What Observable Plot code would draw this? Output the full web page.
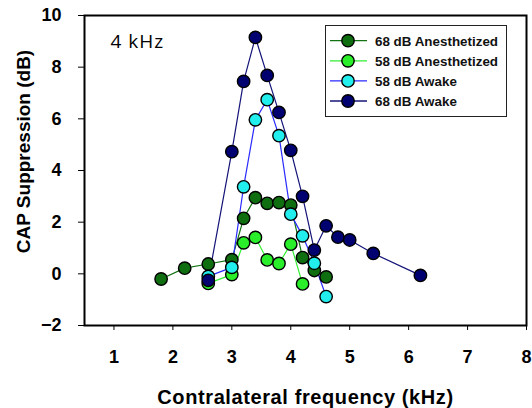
<!DOCTYPE html>
<html><head><meta charset="utf-8">
<script src="https://cdn.jsdelivr.net/npm/d3@7"></script>
<script src="https://cdn.jsdelivr.net/npm/@observablehq/plot@0.6"></script>
<style>
body{margin:0;background:#fff;}
#chart{position:relative;width:532px;height:408px;}
#legend{position:absolute;left:325px;top:25px;}
</style></head><body><div id="chart"></div>
<script>
const seriesNames = ["68 dB Anesthetized","58 dB Anesthetized","58 dB Awake","68 dB Awake"];
const fillColors = ["#0f6e0f","#2aee2a","#22eeee","#000070"];
const lineColors = ["#137313","#33ee33","#2a2aff","#141478"];
const freqAnes68 = [1.8,2.2,2.6,3.0,3.2,3.4,3.6,3.8,4.0,4.2,4.4,4.6];
const supAnes68  = [-0.2,0.22,0.38,0.55,2.15,2.95,2.73,2.76,2.66,0.63,0.13,-0.12];
const freqAnes58 = [2.6,3.0,3.2,3.4,3.6,3.8,4.0,4.2];
const supAnes58  = [-0.37,-0.03,1.2,1.41,0.54,0.4,1.15,-0.39];
const freqAwake58 = [2.6,3.0,3.2,3.4,3.6,3.8,4.0,4.2,4.4,4.6];
const supAwake58  = [-0.1,0.25,3.37,5.96,6.74,5.35,2.31,1.47,0.41,-0.88];
const freqAwake68 = [2.6,3.0,3.2,3.4,3.6,3.8,4.0,4.2,4.4,4.6,4.8,5.0,5.4,6.2];
const supAwake68  = [-0.25,4.73,7.45,9.15,7.68,6.25,4.78,3.0,0.92,1.86,1.42,1.31,0.79,-0.06];
const xTicks = [1,2,3,4,5,6,7,8];
const yTicks = [-2,0,2,4,6,8,10];
const xTitle = "Contralateral frequency (kHz)";
const yTitle = "CAP Suppression (dB)";
const panelLabel = "4 kHz";

const freqs = [freqAnes68, freqAnes58, freqAwake58, freqAwake68];
const sups = [supAnes68, supAnes58, supAwake58, supAwake68];
const series = seriesNames.map((name, i) => freqs[i].map((f, j) => ({name, f, s: sups[i][j]})));

const lineMarks = series.map((d, i) => Plot.line(d, {x: "f", y: "s", stroke: lineColors[i], strokeWidth: 1.2}));
const dotMarks = series.map((d, i) => Plot.dot(d, {x: "f", y: "s", r: 6.2, fill: fillColors[i], stroke: "#000", strokeWidth: 1.4}));

const chart = Plot.plot({
  width: 532, height: 408,
  marginLeft: 84, marginRight: 6, marginTop: 15, marginBottom: 83,
  style: {fontFamily: "Liberation Sans, Arial, sans-serif", fontSize: "18px", fontWeight: "bold", background: "#fff", color: "#000"},
  x: {domain: [0.5, 8]},
  y: {domain: [-2, 10]},
  marks: [
    Plot.axisX({ticks: xTicks, tickSize: 5, tickPadding: 20, label: null, fontSize: 18, fontWeight: "bold"}),
    Plot.axisY({ticks: yTicks, tickSize: 6, tickPadding: 17, label: null, fontSize: 18, fontWeight: "bold"}),
    ...lineMarks,
    ...dotMarks,
    Plot.frame({stroke: "#000", strokeWidth: 2}),
    Plot.text([xTitle], {frameAnchor: "bottom", dy: 72, fontSize: 20, fontWeight: "bold", lineAnchor: "middle"}),
    Plot.text([yTitle], {frameAnchor: "left", rotate: -90, dx: -61, dy: -19, textAnchor: "middle", fontSize: 19, fontWeight: "bold"}),
    Plot.text([panelLabel], {frameAnchor: "top-left", dx: 26, dy: 19, textAnchor: "start", lineAnchor: "top", fontSize: 19, fontWeight: "normal", fontFamily: "Open Sans, sans-serif"})
  ]
});
const container = document.getElementById("chart");
container.appendChild(chart);
d3.select(chart).selectAll("text").filter(function(){ return this.textContent === xTitle; }).style("letter-spacing", "0.6px");
d3.select(chart).selectAll("text").filter(function(){ return this.textContent === panelLabel; }).style("letter-spacing", "1px");

// legend overlay
const lw = 182, lh = 92;
const leg = d3.select(container).append("svg").attr("id", "legend").attr("width", lw).attr("height", lh);
leg.append("rect").attr("x", 0.5).attr("y", 0.5).attr("width", lw - 1).attr("height", lh - 1).attr("fill", "#fff").attr("stroke", "#222").attr("stroke-width", 1);
const rows = leg.selectAll("g").data(seriesNames).join("g").attr("transform", (d, i) => `translate(0,${15.7 + i * 20.1})`);
rows.append("line").attr("x1", 5).attr("x2", 42).attr("stroke", (d, i) => lineColors[i]).attr("stroke-width", 1.3);
rows.append("circle").attr("cx", 23).attr("r", 6.2).attr("fill", (d, i) => fillColors[i]).attr("stroke", "#000").attr("stroke-width", 1.4);
rows.append("text").attr("x", 50).attr("dy", "0.36em").text(d => d)
  .attr("font-family", "Liberation Sans, Arial, sans-serif").attr("font-size", 13.4).attr("font-weight", "bold").attr("fill", "#111");
</script></body></html>
